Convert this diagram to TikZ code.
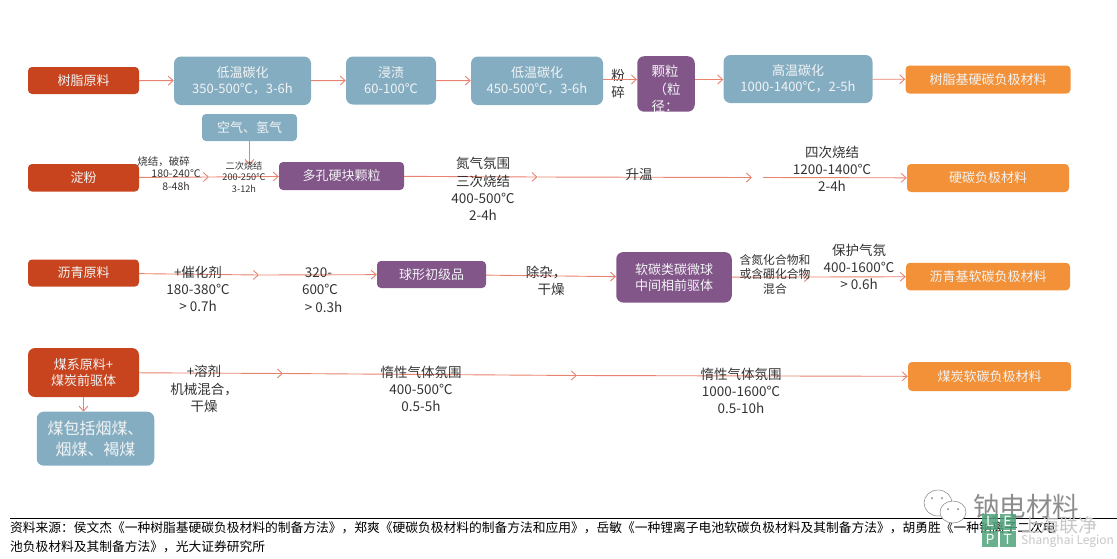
\documentclass[tikz,border=0pt]{standalone}
\usepackage{fontspec}
\setmainfont{Noto Sans CJK SC}
\usetikzlibrary{arrows.meta}

\definecolor{rawred}{HTML}{C8441F}
\definecolor{stepblue}{HTML}{85ADC1}
\definecolor{midpurple}{HTML}{835689}
\definecolor{endorange}{HTML}{F39139}
\definecolor{flowline}{HTML}{E8836F}
\definecolor{boxtext}{HTML}{F1F4F5}
\definecolor{labeltext}{HTML}{333333}
\definecolor{leptgreen}{HTML}{4FA37A}

\tikzset{
    box/.style={rounded corners=#1, inner sep=0pt, text=boxtext, align=center, font=\fontsize{13}{15.8}\selectfont},
    box/.default=4pt,
    raw/.style={box, fill=rawred},
    stepbox/.style={box=7pt, fill=stepblue},
    mid/.style={box, fill=midpurple},
    final/.style={box, fill=endorange},
    flow/.style={->, draw=flowline, line width=0.9pt},
    label/.style={text=labeltext, align=center, inner sep=0pt, font=\fontsize{13.5}{17.2}\selectfont},
    small/.style={label, font=\fontsize{10.5}{12.8}\selectfont},
    tiny/.style={label, font=\fontsize{9.2}{11.6}\selectfont},
    wmark/.style={inner sep=0pt, text=black!22},
    bubble/.style={draw=black!50, fill=white, line width=0.5pt},
    lepttile/.style={fill=leptgreen, fill opacity=0.85, text opacity=1, minimum size=16pt, inner sep=0pt, text=white, font=\fontsize{14}{14}\selectfont}
}

\begin{document}
\begin{tikzpicture}[>={Straight Barb[length=5pt,width=9pt]}, x=1pt, y=-1pt]
            \useasboundingbox (0, 0) rectangle (1117, 558);

            % row 1
            \node[raw, minimum width=111pt, minimum height=27pt] (resin) at (83.5, 80.5) {树脂原料};
            \node[stepbox, minimum width=137pt, minimum height=48.5pt] (lowa) at (242.5, 80.75) {低温碳化\\350-500℃，3-6h};
            \node[stepbox, minimum width=90pt, minimum height=48pt] (soak) at (391, 80.5) {浸渍\\60-100℃};
            \node[stepbox, minimum width=132pt, minimum height=48.5pt] (lowb) at (537, 80.75) {低温碳化\\450-500℃，3-6h};
            \node[box=7pt, fill=midpurple, minimum width=57.5pt, minimum height=55.5pt, anchor=north] (grain) at (666, 56) {};
            \node[label, text=boxtext, font=\fontsize{13.5}{17.2}\selectfont, align=left] (graintext) at (666, 89) {颗粒\\\hspace*{2pt}（粒\\径：};
            \node[stepbox, minimum width=149pt, minimum height=48pt] (high) at (798, 79) {高温碳化\\1000-1400℃，2-5h};
            \node[final, minimum width=165pt, minimum height=28pt] (hardc) at (988, 79.5) {树脂基硬碳负极材料};
            \node[stepbox, box=4pt, minimum width=95pt, minimum height=27pt] (air) at (249.5, 127.5) {空气、氢气};
            \node[label] (crush) at (618, 84) {粉\\碎};
            \coordinate (rowa) at (0, 79.5);

            \draw[flow] (resin) -- (lowa);
            \draw[flow] (lowa) -- (soak);
            \draw[flow] (soak) -- (lowb);
            \draw[flow] (lowb.east |- rowa) -- (grain.west |- rowa);
            \draw[flow] (grain.east |- rowa) -- (high.west |- rowa);
            \draw[flow] (high) -- (hardc);

            % row 2
            \node[raw, minimum width=111pt, minimum height=27.5pt] (starch) at (83.5, 177.75) {淀粉};
            \node[mid, minimum width=125pt, minimum height=28pt] (porous) at (341.5, 176) {多孔硬块颗粒};
            \node[final, minimum width=162pt, minimum height=28pt] (hardb) at (988, 178) {硬碳负极材料};
            \coordinate (sa) at (209, 177);
            \coordinate (sb) at (537.5, 177);
            \coordinate (sc) at (752, 177.5);
            \coordinate (sd) at (763, 177.5);
            \coordinate (se) at (249.5, 165);

            \draw[flow] (starch) -- (sa);
            \draw[flow] (sa) -- (porous);
            \draw[flow] (air) -- (se);
            \draw[flow] (porous) -- (sb);
            \draw[flow] (sb) -- (sc);
            \draw[flow] (sd) -- (hardb);

            \node[small] (sinter) at (172, 173.5) {烧结，破碎\hspace*{17pt}\\\hspace*{8pt}180-240℃\\\hspace*{8pt}8-48h};
            \node[tiny] (second) at (244, 177) {二次烧结\\200-250℃\\3-12h};
            \node[label] (third) at (483, 189) {氮气氛围\\三次烧结\\400-500℃\\2-4h};
            \node[label] (heat) at (639, 174) {升温};
            \node[label] (fourth) at (832, 168.7) {四次烧结\\1200-1400℃\\2-4h};

            % row 3
            \node[raw, minimum width=111pt, minimum height=27pt] (pitch) at (83.5, 273) {沥青原料};
            \node[mid, minimum width=109pt, minimum height=27pt] (sphere) at (431.5, 274.5) {球形初级品};
            \node[mid, box=7pt, minimum width=115.5pt, minimum height=50.5pt] (meso) at (674, 277.3) {软碳类碳微球\\中间相前驱体};
            \node[final, minimum width=164pt, minimum height=27.5pt] (softp) at (988, 276.5) {沥青基软碳负极材料};
            \coordinate (pa) at (259, 275);
            \coordinate (pb) at (810, 277);

            \draw[flow] (pitch) -- (pa);
            \draw[flow] (pa) -- (sphere);
            \draw[flow] (sphere) -- (meso);
            \draw[flow] (meso) -- (pb);
            \draw[flow] (pb) -- (softp);

            \node[label] (catalyst) at (198, 288.7) {+催化剂\\180-380℃\\> 0.7h};
            \node[label] (warm) at (320, 290) {320-\hspace*{3pt}\\600℃\hspace*{3pt}\\\hspace*{7pt}> 0.3h};
            \node[label] (purify) at (548, 281) {除杂，\hspace*{4pt}\\\hspace*{6pt}干燥};
            \node[small, font=\fontsize{11.8}{14.5}\selectfont] (dope) at (775, 274.5) {含氮化合物和\\或含硼化合物\\混合};
            \node[label] (shield) at (859, 267) {保护气氛\\400-1600℃\\> 0.6h};

            % row 4
            \node[raw, box=7pt, minimum width=111pt, minimum height=49pt] (coal) at (83.5, 372.5) {煤系原料+\\煤炭前驱体};
            \node[stepbox, minimum width=117.5pt, minimum height=54pt, font=\fontsize{16}{21}\selectfont] (kinds) at (95.5, 438.7) {煤包括烟煤、\\烟煤、褐煤};
            \node[final, minimum width=163pt, minimum height=29pt] (softc) at (989.5, 376.5) {煤炭软碳负极材料};
            \coordinate (ca) at (283, 373.5);
            \coordinate (cb) at (577, 375.5);
            \coordinate (kindstop) at (83.5, 411.7);

            \draw[flow] (coal) -- (ca);
            \draw[flow] (ca) -- (cb);
            \draw[flow] (cb) -- (softc);
            \draw[flow] (coal) -- (kindstop);

            \node[label] (solvent) at (204, 389) {+溶剂\\机械混合，\\干燥};
            \node[label] (inerta) at (421, 389) {惰性气体氛围\\400-500℃\\0.5-5h};
            \node[label] (inertb) at (741, 391) {惰性气体氛围\\1000-1600℃\\0.5-10h};

            % footer
            \coordinate (rulea) at (10, 518);
            \coordinate (ruleb) at (1117, 518);
            \draw[black, line width=1pt] (rulea) -- (ruleb);
            \node[anchor=west, inner sep=0pt, font=\fontsize{12.75}{12.75}\selectfont] (sourcea) at (10, 527.5) {资料来源：侯文杰《一种树脂基硬碳负极材料的制备方法》，郑爽《硬碳负极材料的制备方法和应用》，岳敏《一种锂离子电池软碳负极材料及其制备方法》，胡勇胜《一种钠离子二次电};
            \node[anchor=west, inner sep=0pt, font=\fontsize{12.75}{12.75}\selectfont] (sourceb) at (10, 546.5) {池负极材料及其制备方法》，光大证券研究所};

            % watermark
            \draw[bubble] (938, 503) ellipse (14pt and 13pt);
            \draw[bubble] (953, 512) ellipse (13pt and 11pt);
            \fill[black!50] (932, 498) circle (1pt) (942, 498) circle (1pt) (948, 509) circle (1pt) (958, 509) circle (1pt);
            \node[wmark, text=black!45, anchor=west, font=\fontsize{26.5}{26.5}\selectfont] (brand) at (973, 506) {钠电材料};
            \node[lepttile] (tl) at (990, 521.5) {L};
            \node[lepttile] (te) at (1007.5, 521.5) {E};
            \node[lepttile] (tp) at (990, 539) {P};
            \node[lepttile] (tt) at (1007.5, 539) {T};
            \node[wmark, anchor=west, font=\fontsize{19}{19}\selectfont] (legioncn) at (1021, 525) {上海联净};
            \node[wmark, anchor=west, font=\fontsize{12}{12}\selectfont] (legionen) at (1021, 541) {Shanghai Legion};
        \end{tikzpicture}
\end{document}
